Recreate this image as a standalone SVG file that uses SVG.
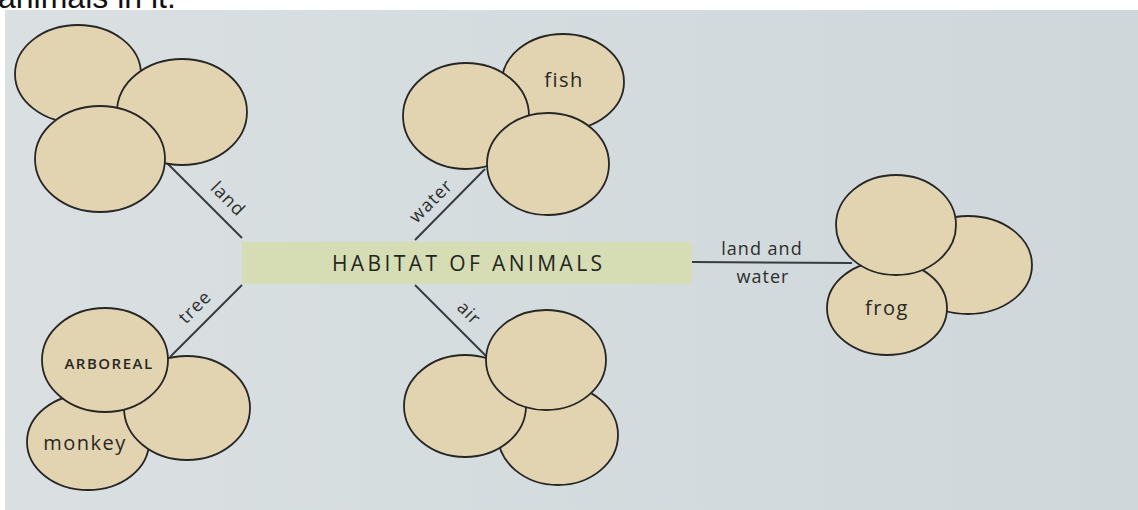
<svg xmlns="http://www.w3.org/2000/svg" width="1138" height="510" viewBox="0 0 1138 510">
  <defs>
    <linearGradient id="page" x1="0" y1="0" x2="1" y2="0">
      <stop offset="0" stop-color="#dae0e2"/>
      <stop offset="1" stop-color="#cfd7da"/>
    </linearGradient>
    <style>
      .blob { fill: #e2d3b1; stroke: #262626; stroke-width: 1.8; }
      .conn { stroke: #373c40; stroke-width: 2; fill: none; }
      .lbl { font-family: "Open Sans", "Noto Sans", sans-serif; font-size: 18px; fill: #2c2e2c; letter-spacing: 1px; text-anchor: middle; }
      .name { font-family: "Open Sans", "Noto Sans", sans-serif; font-size: 20px; fill: #282824; letter-spacing: 1.5px; text-anchor: middle; }
      .title { font-family: "Open Sans", "Noto Sans", sans-serif; font-size: 21px; fill: #22261c; text-anchor: middle; }
    </style>
  </defs>

  <rect x="0" y="0" width="1138" height="510" fill="#ffffff"/>
  <text x="-2" y="8" font-family="Liberation Sans, Arial, sans-serif" font-size="32" fill="#111111">animals in it.</text>
  <rect x="5" y="10" width="1133" height="500" fill="url(#page)"/>

  <g id="connectors">
    <line class="conn" x1="167" y1="163" x2="242" y2="238"/>
    <line class="conn" x1="485" y1="169" x2="415" y2="240"/>
    <line class="conn" x1="170" y1="357" x2="242" y2="285"/>
    <line class="conn" x1="415" y1="285" x2="486" y2="356"/>
    <line class="conn" x1="692" y1="262" x2="852" y2="263"/>
    <text class="lbl" transform="translate(228,199) rotate(45)" y="6">land</text>
    <text class="lbl" transform="translate(431,201) rotate(-45)" y="6">water</text>
    <text class="lbl" transform="translate(195,307) rotate(-45)" y="6">tree</text>
    <text class="lbl" transform="translate(469,313) rotate(45)" y="6">air</text>
    <text class="lbl" x="762" y="255">land and</text>
    <text class="lbl" x="763" y="283">water</text>
  </g>

  <g id="center">
    <rect x="242" y="242" width="450" height="42" fill="#d6dcb4"/>
    <text class="title" x="467" y="271" textLength="270" lengthAdjust="spacing">HABITAT OF ANIMALS</text>
  </g>

  <g id="land-group">
    <ellipse class="blob" cx="78" cy="74" rx="63" ry="49"/>
    <ellipse class="blob" cx="182" cy="112" rx="65" ry="53"/>
    <ellipse class="blob" cx="100" cy="159" rx="65" ry="53"/>
  </g>

  <g id="water-group">
    <ellipse class="blob" cx="563" cy="82" rx="61" ry="48"/>
    <ellipse class="blob" cx="466" cy="116" rx="63" ry="53"/>
    <ellipse class="blob" cx="548" cy="164" rx="61" ry="51"/>
    <text class="name" x="564" y="87">fish</text>
  </g>

  <g id="land-water-group">
    <ellipse class="blob" cx="968" cy="265" rx="64" ry="49"/>
    <ellipse class="blob" cx="887" cy="308" rx="60" ry="47"/>
    <ellipse class="blob" cx="896" cy="225" rx="60" ry="50"/>
    <text class="name" x="887" y="315">frog</text>
  </g>

  <g id="tree-group">
    <ellipse class="blob" cx="88" cy="442" rx="61" ry="48"/>
    <ellipse class="blob" cx="187" cy="408" rx="63" ry="52"/>
    <ellipse class="blob" cx="105" cy="360" rx="63" ry="52"/>
    <text class="name" x="85" y="450">monkey</text>
    <text class="name" x="109" y="369" style="font-size:15px;letter-spacing:1.5px;font-weight:600">ARBOREAL</text>
  </g>

  <g id="air-group">
    <ellipse class="blob" cx="558" cy="435" rx="60" ry="50"/>
    <ellipse class="blob" cx="465" cy="406" rx="61" ry="51"/>
    <ellipse class="blob" cx="546" cy="360" rx="60" ry="50"/>
  </g>
</svg>
